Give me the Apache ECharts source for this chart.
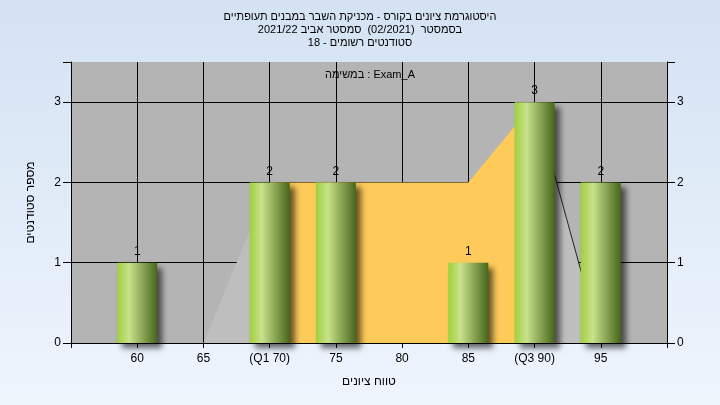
<!DOCTYPE html>
<html><head><meta charset="utf-8">
<script src="https://cdn.jsdelivr.net/npm/echarts@6/dist/echarts.min.js"></script>
<style>html,body{margin:0;padding:0}#c{width:720px;height:405px;background:linear-gradient(#d4e2f3,#eef5fd);}</style>
</head><body><div id="c"></div><script>
const titleLines = ['היסטוגרמת ציונים בקורס - מכניקת השבר במבנים תעופתיים', 'בסמסטר  (02/2021)  סמסטר אביב 2021/22', 'סטודנטים רשומים - 18'];
const taskLabel = 'במשימה : Exam_A';
const xAxisName = 'טווח ציונים';
const yAxisName = 'מספר סטודנטים';
const grades = [60, 65, 70, 75, 80, 85, 90, 95];
const gradeLabels = ['60', '65', '(Q1 70)', '75', '80', '85', '(Q3 90)', '95'];
const counts = [1, 0, 2, 2, 0, 1, 3, 2];
const curveGrades = [65, 70, 75, 80, 85, 90, 95];
const curveValues = [0, 2, 2, 2, 2, 3, 0];
const q1 = 70, q3 = 90;

const FONT = "'Liberation Sans','DejaVu Sans',Arial,sans-serif";
const pts = curveGrades.map((g, i) => [g, curveValues[i]]);
const lowerSeg = pts.filter(p => p[0] <= q1);
const midSeg = pts.filter(p => p[0] >= q1 && p[0] <= q3);
const upperSeg = pts.filter(p => p[0] >= q3);
const labelMap = {};
grades.forEach((g, i) => labelMap[g] = gradeLabels[i]);

const barGrad = new echarts.graphic.LinearGradient(0, 0, 1, 0, [
  {offset: 0, color: '#9fd03c'},
  {offset: 0.3, color: '#c9e28c'},
  {offset: 0.65, color: '#87a453'},
  {offset: 1, color: '#48661c'}
]);

function area(data, color, lineW) {
  return {
    type: 'line', data: data, symbol: 'none', silent: true,
    lineStyle: {width: lineW, color: '#222'},
    areaStyle: {color: color, opacity: 1},
    z: 1
  };
}

const chart = echarts.init(document.getElementById('c'), null, {renderer: 'canvas'});
chart.setOption({
  backgroundColor: 'transparent',
  animation: false,
  textStyle: {fontFamily: FONT},
  title: {
    text: titleLines.join('\n'), left: 'center', top: 5,
    textStyle: {fontSize: 11, fontWeight: 'normal', color: '#000', lineHeight: 13, fontFamily: FONT}
  },
  graphic: [{
    type: 'text', left: 325, top: 69, z: 10,
    style: {text: taskLabel, fill: '#000', font: '11px ' + FONT}
  }],
  grid: {left: 71, right: 53, top: 62, bottom: 62, show: true, backgroundColor: '#b4b4b4', borderWidth: 0},
  xAxis: {
    type: 'value', min: 55, max: 100, interval: 5,
    name: xAxisName, nameLocation: 'middle', nameGap: 33,
    nameTextStyle: {fontSize: 12, color: '#000', fontFamily: FONT},
    axisLine: {show: true, lineStyle: {color: '#000', width: 1}},
    axisTick: {show: true, length: 5, lineStyle: {color: '#000'}},
    axisLabel: {fontSize: 12, color: '#000', margin: 10, formatter: v => labelMap[v] || '', showMinLabel: true, showMaxLabel: true},
    splitLine: {show: true, lineStyle: {color: '#000', width: 1}}
  },
  yAxis: [{
    type: 'value', min: 0, max: 3.5, interval: 1,
    name: yAxisName, nameLocation: 'middle', nameGap: 34,
    nameTextStyle: {fontSize: 12, color: '#000', fontFamily: FONT},
    axisLine: {show: true, lineStyle: {color: '#000'}},
    axisTick: {show: true, length: 8, lineStyle: {color: '#000'}},
    axisLabel: {fontSize: 12, color: '#000', margin: 10, formatter: v => Number.isInteger(v) ? String(v) : ''},
    splitLine: {show: true, lineStyle: {color: ['#000', '#000', '#000', '#000', 'rgba(0,0,0,0)'], width: 1}}
  }, {
    type: 'value', min: 0, max: 3.5, interval: 1, position: 'right',
    axisLine: {show: true, lineStyle: {color: '#000'}},
    axisTick: {show: true, length: 8, lineStyle: {color: '#000'}},
    axisLabel: {fontSize: 12, color: '#000', margin: 10, formatter: v => Number.isInteger(v) ? String(v) : ''},
    splitLine: {show: false}
  }],
  series: [
    area(lowerSeg, '#bebebe', 0),
    area(midSeg, '#fecb5a', 0),
    area(upperSeg, '#bebebe', 1),
    {
      type: 'bar', barWidth: 40, z: 3,
      data: grades.map((g, i) => [g, counts[i]]),
      itemStyle: {color: barGrad, shadowColor: 'rgba(0,0,0,0.6)', shadowBlur: 6, shadowOffsetX: 5, shadowOffsetY: 5},
      label: {show: true, position: 'top', distance: 5, fontSize: 12, color: '#000', formatter: p => p.value[1] ? String(p.value[1]) : ''}
    }
  ]
});
</script></body></html>
